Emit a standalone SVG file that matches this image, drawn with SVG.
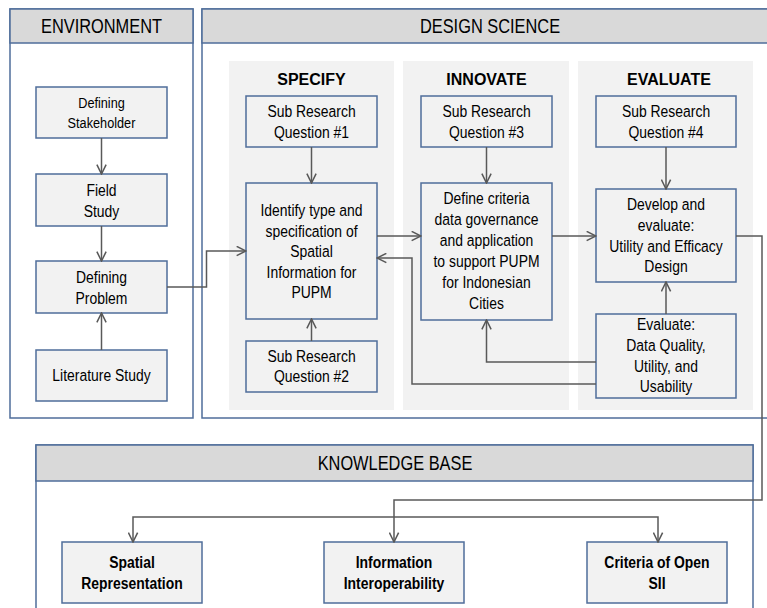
<svg xmlns="http://www.w3.org/2000/svg" width="767" height="608" viewBox="0 0 767 608">
<defs>
<marker id="ah" viewBox="0 0 10 10" refX="9.5" refY="5" markerWidth="11" markerHeight="11" markerUnits="userSpaceOnUse" orient="auto">
<path d="M1,0.8 L9.5,5 L1,9.2" fill="none" stroke="#595959" stroke-width="1.4"/>
</marker>
<style>
.panel{fill:#ffffff;stroke:#4f6d9a;stroke-width:1.5}
.hdr{fill:#d9d9d9;stroke:#4f6d9a;stroke-width:1.5}
.col{fill:#f2f2f2;stroke:none}
.box{fill:#f2f2f2;stroke:#4f6d9a;stroke-width:1.5}
.t{font-family:"Liberation Sans",Arial,sans-serif;font-size:17px;fill:#000;text-anchor:middle}
.ts{font-size:15.5px}
.b{font-weight:bold}
.h{font-family:"Liberation Sans",Arial,sans-serif;font-size:20px;fill:#000;text-anchor:middle}
.ch{font-family:"Liberation Sans",Arial,sans-serif;font-size:16px;font-weight:bold;fill:#000;text-anchor:middle}
.c{fill:none;stroke:#595959;stroke-width:1.5;marker-end:url(#ah)}
</style>
</defs>

<g id="environment">
<rect class="panel" x="10" y="9" width="183" height="409"/>
<rect class="hdr" x="10" y="9" width="183" height="34"/>
<text class="h" transform="translate(101.5,33) scale(0.82,1)">ENVIRONMENT</text>
</g>
<g id="design-science">
<rect class="panel" x="202" y="9" width="566" height="409"/>
<rect class="hdr" x="202" y="9" width="566" height="34"/>
<text class="h" transform="translate(490,33) scale(0.82,1)">DESIGN SCIENCE</text>
</g>
<g id="col-specify">
<rect class="col" x="229" y="61" width="165" height="349"/>
<text class="ch" x="311.5" y="85">SPECIFY</text>
</g>
<g id="col-innovate">
<rect class="col" x="403" y="61" width="166" height="349"/>
<text class="ch" x="486.5" y="85">INNOVATE</text>
</g>
<g id="col-evaluate">
<rect class="col" x="578" y="61" width="175" height="349"/>
<text class="ch" x="669" y="85">EVALUATE</text>
</g>
<g id="knowledge-base">
<rect class="panel" x="36" y="445" width="717" height="175"/>
<rect class="hdr" x="36" y="445" width="717" height="36"/>
<text class="h" transform="translate(395,470) scale(0.82,1)">KNOWLEDGE BASE</text>
</g>

<g id="defining-stakeholder">
<rect class="box" x="36" y="87" width="131" height="51"/>
<text class="t ts" transform="translate(101.5,108) scale(0.82,1)">Defining</text>
<text class="t ts" transform="translate(101.5,128) scale(0.82,1)">Stakeholder</text>
</g>
<g id="field-study">
<rect class="box" x="36" y="174" width="131" height="52"/>
<text class="t" transform="translate(101.5,196) scale(0.82,1)">Field</text>
<text class="t" transform="translate(101.5,217) scale(0.82,1)">Study</text>
</g>
<g id="defining-problem">
<rect class="box" x="36" y="261" width="131" height="52"/>
<text class="t" transform="translate(101.5,283) scale(0.82,1)">Defining</text>
<text class="t" transform="translate(101.5,304) scale(0.82,1)">Problem</text>
</g>
<g id="literature-study">
<rect class="box" x="36" y="350" width="131" height="51"/>
<text class="t" transform="translate(101.5,381) scale(0.82,1)">Literature Study</text>
</g>

<g id="srq1">
<rect class="box" x="246" y="96" width="131" height="51"/>
<text class="t" transform="translate(311.5,117) scale(0.82,1)">Sub Research</text>
<text class="t" transform="translate(311.5,138) scale(0.82,1)">Question #1</text>
</g>
<g id="identify">
<rect class="box" x="246" y="183" width="131" height="136"/>
<text class="t" transform="translate(311.5,216) scale(0.82,1)">Identify type and</text>
<text class="t" transform="translate(311.5,236.5) scale(0.82,1)">specification of</text>
<text class="t" transform="translate(311.5,257) scale(0.82,1)">Spatial</text>
<text class="t" transform="translate(311.5,277.5) scale(0.82,1)">Information for</text>
<text class="t" transform="translate(311.5,298) scale(0.82,1)">PUPM</text>
</g>
<g id="srq2">
<rect class="box" x="246" y="341" width="131" height="51"/>
<text class="t" transform="translate(311.5,362) scale(0.82,1)">Sub Research</text>
<text class="t" transform="translate(311.5,382) scale(0.82,1)">Question #2</text>
</g>

<g id="srq3">
<rect class="box" x="421" y="96" width="131" height="51"/>
<text class="t" transform="translate(486.5,117) scale(0.82,1)">Sub Research</text>
<text class="t" transform="translate(486.5,138) scale(0.82,1)">Question #3</text>
</g>
<g id="define-criteria">
<rect class="box" x="421" y="183" width="131" height="137"/>
<text class="t" transform="translate(486.5,204) scale(0.82,1)">Define criteria</text>
<text class="t" transform="translate(486.5,225) scale(0.82,1)">data governance</text>
<text class="t" transform="translate(486.5,246) scale(0.82,1)">and application</text>
<text class="t" transform="translate(486.5,267) scale(0.82,1)">to support PUPM</text>
<text class="t" transform="translate(486.5,288) scale(0.82,1)">for Indonesian</text>
<text class="t" transform="translate(486.5,309) scale(0.82,1)">Cities</text>
</g>

<g id="srq4">
<rect class="box" x="596" y="96" width="140" height="51"/>
<text class="t" transform="translate(666,117) scale(0.82,1)">Sub Research</text>
<text class="t" transform="translate(666,138) scale(0.82,1)">Question #4</text>
</g>
<g id="develop">
<rect class="box" x="596" y="189" width="140" height="93"/>
<text class="t" transform="translate(666,210) scale(0.82,1)">Develop and</text>
<text class="t" transform="translate(666,231) scale(0.82,1)">evaluate:</text>
<text class="t" transform="translate(666,252) scale(0.82,1)">Utility and Efficacy</text>
<text class="t" transform="translate(666,272) scale(0.82,1)">Design</text>
</g>
<g id="evaluate">
<rect class="box" x="596" y="314" width="140" height="84"/>
<text class="t" transform="translate(666,330) scale(0.82,1)">Evaluate:</text>
<text class="t" transform="translate(666,351) scale(0.82,1)">Data Quality,</text>
<text class="t" transform="translate(666,372) scale(0.82,1)">Utility, and</text>
<text class="t" transform="translate(666,392) scale(0.82,1)">Usability</text>
</g>

<g id="spatial-representation">
<rect class="box" x="62" y="542" width="140" height="61"/>
<text class="t b" transform="translate(132,568) scale(0.82,1)">Spatial</text>
<text class="t b" transform="translate(132,589) scale(0.82,1)">Representation</text>
</g>
<g id="information-interoperability">
<rect class="box" x="324" y="542" width="140" height="61"/>
<text class="t b" transform="translate(394,568) scale(0.82,1)">Information</text>
<text class="t b" transform="translate(394,589) scale(0.82,1)">Interoperability</text>
</g>
<g id="criteria-open-sii">
<rect class="box" x="587" y="542" width="140" height="61"/>
<text class="t b" transform="translate(657,568) scale(0.82,1)">Criteria of Open</text>
<text class="t b" transform="translate(657,589) scale(0.82,1)">SII</text>
</g>

<g id="connectors">
<path class="c" d="M101.5,138 V174"/>
<path class="c" d="M101.5,226 V261"/>
<path class="c" d="M101.5,350 V313"/>
<path class="c" d="M167,287 H206.5 V251 H246"/>
<path class="c" d="M311.5,147 V183"/>
<path class="c" d="M311.5,341 V319"/>
<path class="c" d="M486.5,147 V183"/>
<path class="c" d="M377,236 H421"/>
<path class="c" d="M552,236 H596"/>
<path class="c" d="M666,147 V189"/>
<path class="c" d="M666,314 V282"/>
<path class="c" d="M596,362 H486.5 V320"/>
<path class="c" d="M596,384 H412 V258 H377"/>
<path class="c" d="M736,236 H762 V500 H394 V542"/>
<path class="c" d="M394,517 H133 V542"/>
<path class="c" d="M394,517 H658 V542"/>
</g>
</svg>
